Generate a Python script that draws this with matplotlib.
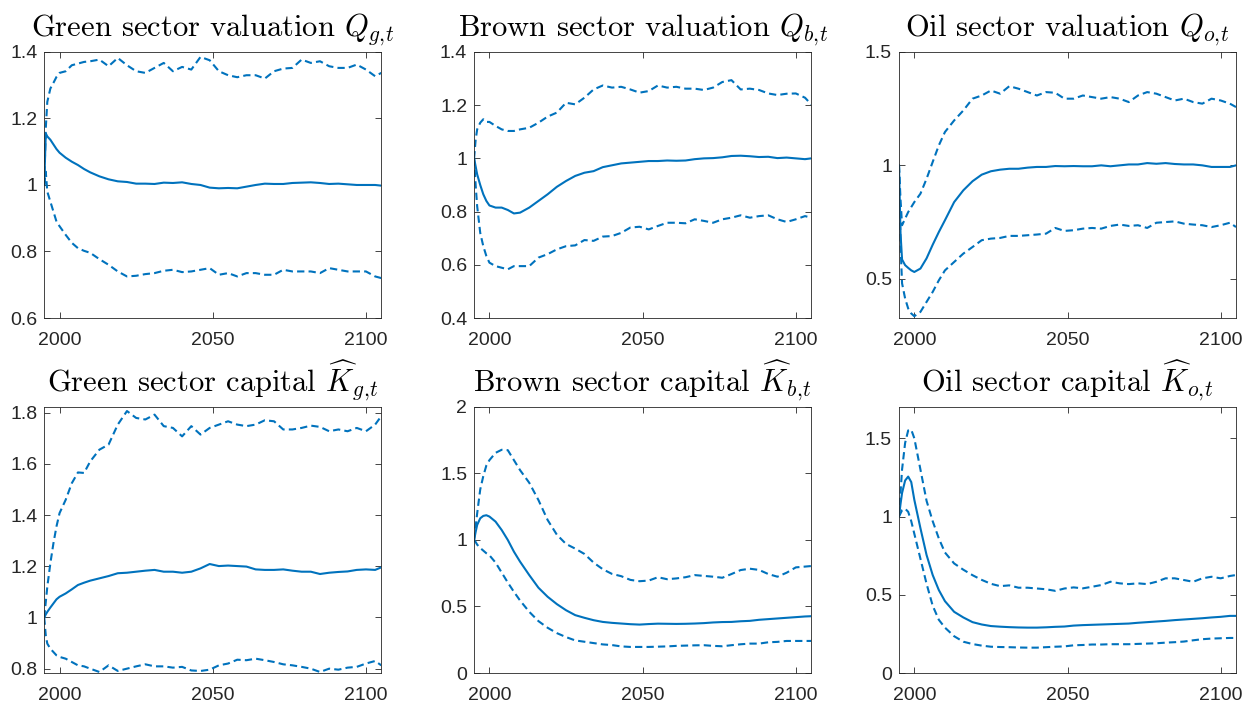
# Import libraries
import matplotlib
matplotlib.use("Agg")
import matplotlib.pyplot as plt
from matplotlib.ticker import FormatStrFormatter

# Step 1: Data (median and 5/95 bands)

years = [1995, 1995.5, 1996, 1997, 1998, 1999, 2000, 2002, 2004, 2006, 2008, 2010,
         2013, 2016, 2019, 2022, 2025, 2028, 2031, 2034, 2037, 2040,
         2043, 2046, 2049, 2052, 2055, 2058, 2061, 2064, 2067, 2070,
         2073, 2076, 2079, 2082, 2085, 2088, 2091, 2094, 2097, 2100,
         2103, 2105]

# Green sector valuation
qg_med = [1.0, 1.155, 1.146, 1.136, 1.122, 1.108, 1.097, 1.082, 1.07, 1.06, 1.048, 1.038,
          1.026, 1.017, 1.011, 1.009, 1.004, 1.004, 1.003, 1.007, 1.006, 1.008,
          1.003, 1.0, 0.992, 0.99, 0.991, 0.99, 0.995, 1.0, 1.004, 1.003,
          1.003, 1.006, 1.007, 1.008, 1.006, 1.003, 1.004, 1.002, 1.0, 1.0,
          1.0, 0.998]
qg_hi = [1.0, 1.17, 1.25, 1.29, 1.307, 1.325, 1.337, 1.342, 1.36, 1.365, 1.37, 1.372,
         1.377, 1.357, 1.382, 1.36, 1.342, 1.337, 1.352, 1.367, 1.342, 1.355,
         1.347, 1.385, 1.375, 1.342, 1.33, 1.324, 1.33, 1.33, 1.32, 1.342,
         1.35, 1.352, 1.377, 1.367, 1.372, 1.357, 1.352, 1.352, 1.362, 1.347,
         1.327, 1.337]
qg_lo = [1.0, 1.04, 0.98, 0.95, 0.92, 0.89, 0.876, 0.85, 0.826, 0.81, 0.802, 0.796,
         0.777, 0.76, 0.74, 0.725, 0.727, 0.732, 0.735, 0.742, 0.745, 0.738,
         0.74, 0.745, 0.75, 0.73, 0.735, 0.725, 0.735, 0.735, 0.73, 0.73,
         0.745, 0.74, 0.74, 0.74, 0.735, 0.75, 0.745, 0.74, 0.74, 0.74,
         0.725, 0.72]

# Brown sector valuation
qb_med = [1.0, 0.97, 0.94, 0.90, 0.865, 0.84, 0.823, 0.815, 0.815, 0.806, 0.793, 0.796,
          0.815, 0.84, 0.865, 0.893, 0.915, 0.934, 0.946, 0.952, 0.967, 0.974,
          0.981, 0.984, 0.987, 0.99, 0.99, 0.992, 0.991, 0.992, 0.997, 1.0,
          1.001, 1.004, 1.009, 1.01, 1.008, 1.005, 1.006, 1.001, 1.003, 1.0,
          0.997, 1.0]
qb_hi = [1.0, 1.07, 1.109, 1.134, 1.147, 1.137, 1.137, 1.122, 1.109, 1.103, 1.103, 1.109,
         1.115, 1.134, 1.157, 1.172, 1.209, 1.203, 1.228, 1.259, 1.274, 1.266,
         1.269, 1.259, 1.247, 1.253, 1.274, 1.266, 1.269, 1.262, 1.262, 1.257,
         1.266, 1.287, 1.294, 1.259, 1.262, 1.257, 1.244, 1.238, 1.243, 1.244,
         1.228, 1.203]
qb_lo = [1.0, 0.9, 0.82, 0.72, 0.67, 0.633, 0.608, 0.595, 0.589, 0.583, 0.595, 0.595,
         0.595, 0.627, 0.64, 0.658, 0.67, 0.673, 0.693, 0.69, 0.706, 0.708,
         0.72, 0.74, 0.743, 0.733, 0.746, 0.758, 0.758, 0.756, 0.771, 0.765,
         0.758, 0.771, 0.777, 0.786, 0.777, 0.783, 0.786, 0.771, 0.761, 0.771,
         0.783, 0.777]

# Oil sector valuation
qo_med = [1.0, 0.7, 0.585, 0.56, 0.548, 0.537, 0.53, 0.545, 0.59, 0.65, 0.706, 0.758,
          0.838, 0.89, 0.93, 0.959, 0.974, 0.981, 0.985, 0.985, 0.99, 0.993,
          0.993, 0.997, 0.996, 0.997, 0.996, 0.996, 1.0, 0.996, 1.0, 1.004,
          1.004, 1.01, 1.007, 1.01, 1.006, 1.004, 1.004, 1.0, 0.993, 0.993,
          0.993, 1.0]
qo_hi = [1.0, 0.85, 0.736, 0.765, 0.794, 0.816, 0.838, 0.875, 0.941, 1.015, 1.088, 1.147,
         1.198, 1.242, 1.294, 1.308, 1.33, 1.316, 1.349, 1.338, 1.323, 1.308,
         1.323, 1.32, 1.294, 1.294, 1.308, 1.301, 1.294, 1.301, 1.294, 1.279,
         1.308, 1.323, 1.316, 1.301, 1.286, 1.294, 1.279, 1.272, 1.294, 1.286,
         1.272, 1.257]
qo_lo = [1.0, 0.65, 0.48, 0.413, 0.369, 0.347, 0.335, 0.354, 0.398, 0.442, 0.493, 0.537,
         0.574, 0.611, 0.64, 0.67, 0.677, 0.68, 0.689, 0.689, 0.692, 0.695,
         0.699, 0.724, 0.711, 0.714, 0.721, 0.724, 0.721, 0.733, 0.739, 0.733,
         0.736, 0.724, 0.747, 0.75, 0.753, 0.743, 0.739, 0.736, 0.728, 0.736,
         0.747, 0.728]

# Green sector capital
kg_med = [1.0, 1.012, 1.022, 1.039, 1.055, 1.071, 1.081, 1.094, 1.11, 1.127, 1.136, 1.144,
          1.153, 1.162, 1.173, 1.175, 1.179, 1.183, 1.186, 1.179, 1.179, 1.175,
          1.179, 1.192, 1.209, 1.201, 1.203, 1.201, 1.199, 1.188, 1.186, 1.186,
          1.188, 1.183, 1.179, 1.179, 1.17, 1.175, 1.178, 1.18, 1.186, 1.188,
          1.186, 1.196]
kg_hi = [1.0, 1.06, 1.12, 1.212, 1.29, 1.356, 1.408, 1.46, 1.525, 1.567, 1.565, 1.61,
         1.656, 1.676, 1.754, 1.807, 1.78, 1.774, 1.793, 1.748, 1.741, 1.708,
         1.748, 1.715, 1.741, 1.754, 1.767, 1.754, 1.748, 1.754, 1.771, 1.767,
         1.735, 1.735, 1.741, 1.75, 1.745, 1.728, 1.735, 1.728, 1.741, 1.728,
         1.754, 1.787]
kg_lo = [1.0, 0.93, 0.898, 0.878, 0.865, 0.852, 0.846, 0.839, 0.826, 0.813, 0.809, 0.8,
         0.787, 0.813, 0.791, 0.8, 0.809, 0.817, 0.809, 0.809, 0.804, 0.807,
         0.793, 0.791, 0.796, 0.813, 0.82, 0.835, 0.833, 0.839, 0.833, 0.826,
         0.817, 0.813, 0.807, 0.8, 0.787, 0.8, 0.796, 0.804, 0.807, 0.82,
         0.83, 0.813]

# Brown sector capital
kb_med = [1.0, 1.06, 1.113, 1.163, 1.181, 1.186, 1.176, 1.138, 1.075, 1.0, 0.912, 0.837,
          0.736, 0.641, 0.573, 0.518, 0.472, 0.435, 0.415, 0.397, 0.384, 0.377,
          0.372, 0.367, 0.364, 0.368, 0.371, 0.37, 0.369, 0.37, 0.372, 0.375,
          0.38, 0.383, 0.384, 0.389, 0.392, 0.4, 0.405, 0.41, 0.415, 0.42,
          0.425, 0.427]
kb_hi = [1.0, 1.1, 1.2, 1.38, 1.48, 1.56, 1.6, 1.655, 1.678, 1.675, 1.6, 1.525,
         1.43, 1.3, 1.15, 1.04, 0.97, 0.935, 0.895, 0.83, 0.78, 0.745,
         0.728, 0.7, 0.69, 0.695, 0.72, 0.705, 0.711, 0.72, 0.736, 0.73,
         0.724, 0.716, 0.744, 0.774, 0.784, 0.775, 0.744, 0.724, 0.754, 0.794,
         0.8, 0.804]
kb_lo = [1.0, 0.985, 0.965, 0.94, 0.92, 0.9, 0.885, 0.83, 0.755, 0.68, 0.61, 0.545,
         0.46, 0.39, 0.34, 0.3, 0.27, 0.245, 0.235, 0.225, 0.215, 0.21,
         0.2, 0.196, 0.196, 0.196, 0.198, 0.2, 0.204, 0.206, 0.208, 0.209,
         0.204, 0.201, 0.209, 0.216, 0.221, 0.221, 0.231, 0.234, 0.241, 0.241,
         0.241, 0.241]

# Oil sector capital
ko_med = [1.0, 1.08, 1.15, 1.23, 1.255, 1.22, 1.107, 0.925, 0.754, 0.626, 0.53, 0.459,
          0.391, 0.355, 0.325, 0.31, 0.3, 0.296, 0.293, 0.291, 0.29, 0.29,
          0.292, 0.295, 0.297, 0.303, 0.306, 0.308, 0.31, 0.312, 0.314, 0.316,
          0.321, 0.325, 0.329, 0.333, 0.338, 0.342, 0.346, 0.35, 0.355, 0.359,
          0.365, 0.365]
ko_hi = [1.0, 1.15, 1.3, 1.47, 1.55, 1.555, 1.5, 1.3, 1.1, 0.97, 0.86, 0.77,
         0.7, 0.66, 0.625, 0.595, 0.57, 0.555, 0.56, 0.545, 0.545, 0.54,
         0.535, 0.525, 0.54, 0.547, 0.541, 0.551, 0.562, 0.583, 0.573, 0.568,
         0.573, 0.568, 0.583, 0.605, 0.605, 0.594, 0.583, 0.605, 0.615, 0.605,
         0.62, 0.626]
ko_lo = [1.0, 1.02, 1.04, 1.05, 1.03, 0.97, 0.89, 0.73, 0.57, 0.43, 0.34, 0.29,
         0.235, 0.2, 0.185, 0.175, 0.168, 0.166, 0.165, 0.163, 0.162, 0.162,
         0.165, 0.168, 0.17, 0.177, 0.179, 0.182, 0.182, 0.184, 0.184, 0.184,
         0.186, 0.188, 0.19, 0.194, 0.197, 0.201, 0.209, 0.216, 0.22, 0.222,
         0.224, 0.224]

titles = [r"Green sector valuation $Q_{g,\!t}$",
          r"Brown sector valuation $Q_{b,\!t}$",
          r"Oil sector valuation $Q_{o,\!t}$",
          r"Green sector capital $\widehat{K}_{g,\!t}$",
          r"Brown sector capital $\widehat{K}_{b,\!t}$",
          r"Oil sector capital $\widehat{K}_{o,\!t}$"]

panels = [(qg_med, qg_hi, qg_lo), (qb_med, qb_hi, qb_lo), (qo_med, qo_hi, qo_lo),
          (kg_med, kg_hi, kg_lo), (kb_med, kb_hi, kb_lo), (ko_med, ko_hi, ko_lo)]

ylims = [(0.6, 1.4), (0.4, 1.4), (0.327, 1.5), (0.783, 1.823), (0.0, 2.0), (0.0, 1.7)]
yticks = [[0.6, 0.8, 1.0, 1.2, 1.4],
          [0.4, 0.6, 0.8, 1.0, 1.2, 1.4],
          [0.5, 1.0, 1.5],
          [0.8, 1.0, 1.2, 1.4, 1.6, 1.8],
          [0.0, 0.5, 1.0, 1.5, 2.0],
          [0.0, 0.5, 1.0, 1.5]]

# Step 2: Style (MATLAB-like look)
plt.rcParams["mathtext.fontset"] = "cm"
plt.rcParams["font.family"] = ["Liberation Sans", "DejaVu Sans"]
blue = "#0072BD"
grey = "#262626"

fig = plt.figure(figsize=(12.46, 7.02), dpi=100)

lefts = [0.0355, 0.3805, 0.7215]
bottoms = [0.547, 0.0413]
w, h = 0.2705, 0.379

# Step 3: Draw the six panels
for i in range(6):
    ax = fig.add_axes([lefts[i % 3], bottoms[i // 3], w, h])
    med, hi, lo = panels[i]
    ax.plot(years, med, color=blue, lw=1.5)
    ax.plot(years, hi, color=blue, lw=1.5, linestyle=(0, (3.5, 2)))
    ax.plot(years, lo, color=blue, lw=1.5, linestyle=(0, (3.5, 2)))

    ax.set_xlim(1995, 2105)
    ax.set_ylim(*ylims[i])
    ax.set_xticks([2000, 2050, 2100])
    ax.set_yticks(yticks[i])
    ax.yaxis.set_major_formatter(FormatStrFormatter("%g"))
    ax.tick_params(direction="in", top=True, right=True, length=4,
                   width=0.6, color=grey, labelcolor=grey, labelsize=14)
    ax.tick_params(axis="x", pad=10)
    ax.tick_params(axis="y", pad=5)
    for s in ax.spines.values():
        s.set_color(grey)
        s.set_linewidth(0.6)

    ax.set_title(titles[i], fontsize=22, fontfamily="cmr10", pad=11)

# Save chart
plt.savefig("out.png", dpi=100)
